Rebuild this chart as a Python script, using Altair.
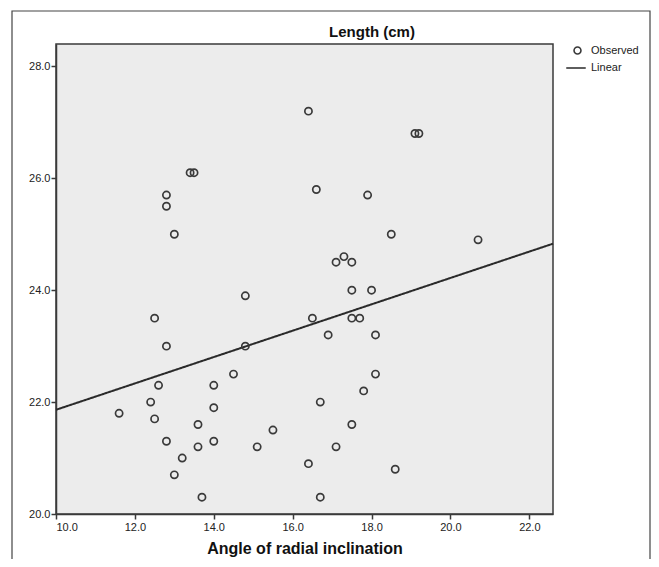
import altair as alt
import pandas as pd

angle = [11.6, 12.4, 12.5, 12.5, 12.8, 12.6, 12.8, 13.2, 13.0, 13.7,
         13.6, 13.6, 14.0, 14.0, 14.0, 14.5, 14.8, 14.8, 15.1, 15.5,
         16.4, 16.5, 16.7, 16.7, 16.9, 17.1, 17.3, 17.5, 17.5, 18.0,
         17.5, 17.7, 18.1, 18.1, 17.8, 17.5, 17.1, 18.6, 16.4, 13.4,
         13.5, 12.8, 12.8, 13.0, 16.6, 17.9, 18.5, 19.1, 19.2, 20.7]
length = [21.8, 22.0, 21.7, 23.5, 23.0, 22.3, 21.3, 21.0, 20.7, 20.3,
          21.6, 21.2, 22.3, 21.9, 21.3, 22.5, 23.9, 23.0, 21.2, 21.5,
          20.9, 23.5, 22.0, 20.3, 23.2, 24.5, 24.6, 24.5, 24.0, 24.0,
          23.5, 23.5, 23.2, 22.5, 22.2, 21.6, 21.2, 20.8, 27.2, 26.1,
          26.1, 25.7, 25.5, 25.0, 25.8, 25.7, 25.0, 26.8, 26.8, 24.9]
chart_title = ["Length (cm)"]

df = pd.DataFrame({"x": angle, "y": length})

FONT = "Liberation Sans"
DARK = "#3a3a3a"

xscale = alt.Scale(domain=[10, 22.6], nice=False, zero=False)
yscale = alt.Scale(domain=[20, 28.4], nice=False, zero=False)

base = alt.Chart(df)

points = base.mark_point(filled=False, size=52, strokeWidth=1.7, color=DARK, opacity=1).encode(
    x=alt.X("x:Q", scale=xscale,
            axis=alt.Axis(title="Angle of radial inclination", values=[10, 12, 14, 16, 18, 20, 22],
                          format=".1f", grid=False, tickSize=5, tickColor=DARK, domainColor=DARK,
                          domainWidth=1.5, tickWidth=1.5, labelFont=FONT, labelFontSize=11,
                          labelColor="#222", titleFont=FONT, titleFontSize=16, titleFontWeight="bold",
                          titleColor="#111", titlePadding=8, labelPadding=2)),
    y=alt.Y("y:Q", scale=yscale,
            axis=alt.Axis(title=None, values=[20, 22, 24, 26, 28], format=".1f", grid=False,
                          tickSize=5, tickColor=DARK, domainColor=DARK, domainWidth=1.5, tickWidth=1.5,
                          labelFont=FONT, labelFontSize=11, labelColor="#222", labelPadding=1)),
    shape=alt.Shape("s:N", scale=alt.Scale(range=["circle"]),
                    legend=alt.Legend(title=None, orient="none", legendX=516, legendY=1,
                                      labelFont=FONT, labelFontSize=11, labelColor="#222",
                                      symbolSize=48, symbolStrokeWidth=1.6, symbolStrokeColor=DARK,
                                      labelOffset=8)),
).transform_calculate(s="'Observed'")

line = base.transform_regression("x", "y", extent=[10, 22.6]).transform_calculate(
    s="'Linear'"
).mark_line(color="#2a2a2a", strokeWidth=2).encode(
    x=alt.X("x:Q", scale=xscale),
    y=alt.Y("y:Q", scale=yscale),
    strokeDash=alt.StrokeDash("s:N", scale=alt.Scale(range=[[1, 0]]),
                              legend=alt.Legend(title=None, orient="none", legendX=509, legendY=13,
                                                labelFont=FONT, labelFontSize=11, labelColor="#222",
                                                symbolSize=380, symbolStrokeWidth=1.6,
                                                symbolStrokeColor="#2a2a2a", labelOffset=4)),
)

single = pd.DataFrame({"t": chart_title})
frame = alt.Chart(single).mark_rect(fill="transparent", stroke="#444", strokeWidth=1.2, clip=False).encode(
    x=alt.value(-44), x2=alt.value(594), y=alt.value(-33), y2=alt.value(540)
)
title = alt.Chart(single).mark_text(font=FONT, fontSize=15, fontWeight="bold", color="#111",
                                    align="center", baseline="alphabetic", clip=False).encode(
    text="t:N", x=alt.value(316), y=alt.value(-7)
)

chart = alt.layer(frame, line, points, title).resolve_legend(
    shape="independent", strokeDash="independent"
).properties(
    width=497, height=470,
    autosize=alt.AutoSizeParams(type="none"),
    padding={"left": 48, "top": 36, "right": 98, "bottom": 45},
).configure(background="white").configure_view(fill="#ececec", stroke=DARK, strokeWidth=1.5)

chart.save("out.html", embed_options={"renderer": "svg", "actions": False})
